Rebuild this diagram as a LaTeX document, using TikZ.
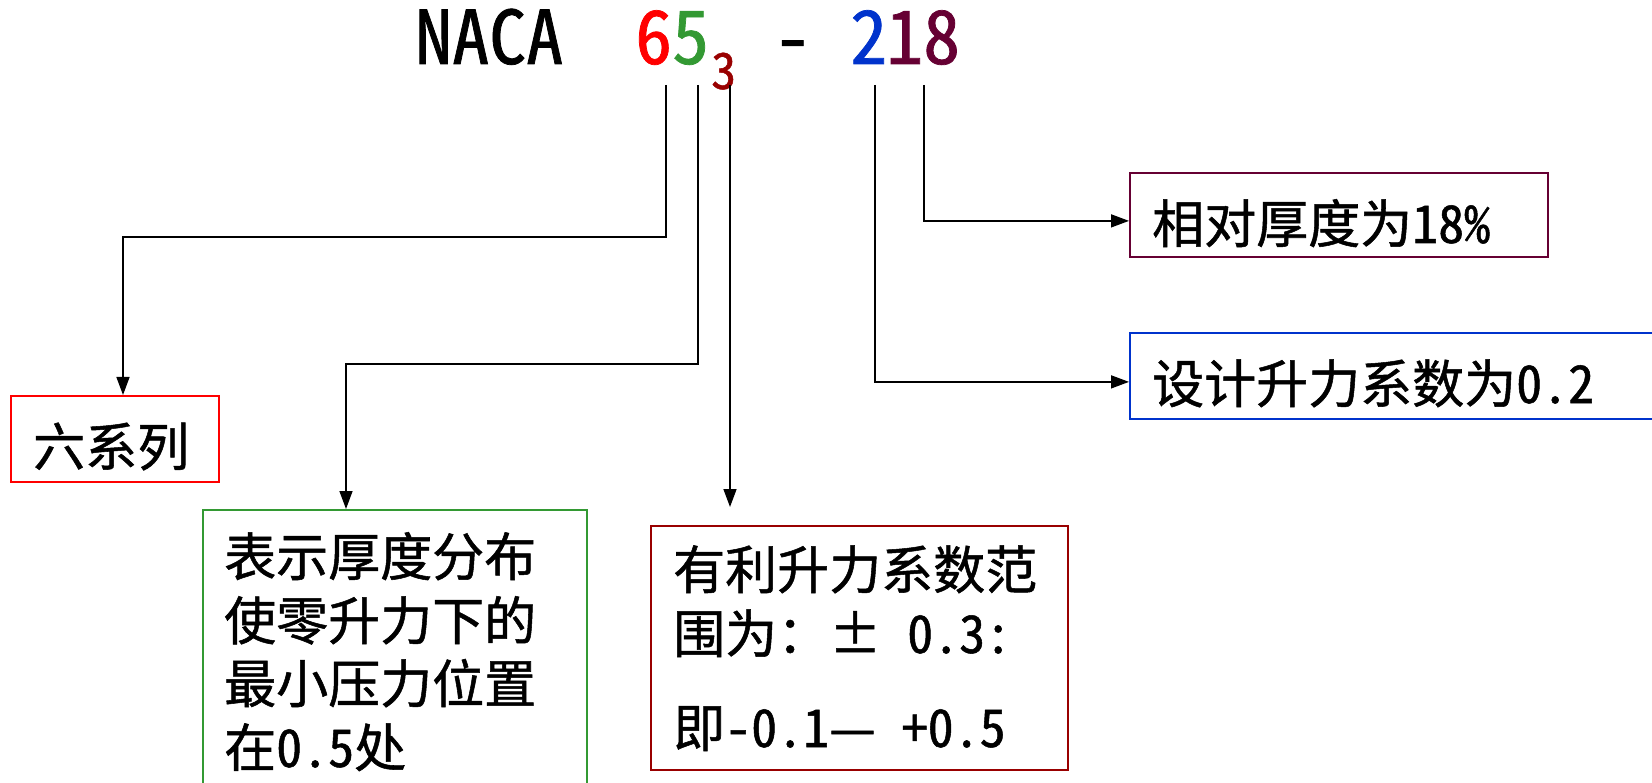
\documentclass[tikz,border=0pt]{standalone}
\usepackage{fontspec}
\usepackage{graphicx}
\setmainfont{Noto Sans CJK SC}
\newfontfamily\hei[FakeBold=1]{Noto Sans Mono CJK SC}
\usetikzlibrary{arrows.meta}
\definecolor{cred}{HTML}{FF0000}
\definecolor{cgreen}{HTML}{339933}
\definecolor{cdred}{HTML}{990000}
\definecolor{cblue}{HTML}{0033CC}
\definecolor{cplum}{HTML}{660033}
\begin{document}
\begin{tikzpicture}[x=1pt,y=-1pt,
  conn/.style={line width=1.5pt,-{Triangle[length=18pt,width=13pt]}},
  box/.style={draw,line width=1.8pt,rectangle,inner sep=0pt},
  txt/.style={font=\hei\fontsize{52}{63}\selectfont,inner sep=0pt,anchor=base west},
  big/.style={font=\hei\fontsize{74}{80}\selectfont,inner sep=0pt,anchor=base west},
  small/.style={font=\hei\fontsize{50}{60}\selectfont,inner sep=0pt,anchor=base west}]
\useasboundingbox (0,0) rectangle (1652,783);
\clip (0,0) rectangle (1652,783);
\fill[white] (0,0) rectangle (1652,783);
% title
\node[big] (naca) at (415,64) {NACA};
\node[big,text=cred] (d6) at (635,64) {6};
\node[big,text=cgreen] (d5) at (672,64) {5};
\node[small,text=cdred] (d3) at (711,89) {3};
\node[big] (dash) at (774,64) {-};
\node[big,text=cblue] (d2) at (850,64) {2};
\node[big,text=cplum] (d1) at (886,64) {1};
\node[big,text=cplum] (d8) at (923,64) {8};
% start points of connectors
\coordinate (p6) at (666,85);
\coordinate (p5) at (698,85);
\coordinate (p3) at (730,85);
\coordinate (p2) at (875,85);
\coordinate (p8) at (924,85);
\coordinate (k6) at (123,237);
\coordinate (k5) at (346,364);
% boxes
\node[box,draw=cred,anchor=north west,minimum width=208,minimum height=86] (six) at (10,395) {};
\node[txt] (sixt) at (33,466) {六系列};
\node[box,draw=cgreen,anchor=north west,minimum width=384,minimum height=300] (gbox) at (202,509) {};
\node[txt] (g1) at (224,576) {表示厚度分布};
\node[txt] (g2) at (224,640) {使零升力下的};
\node[txt] (g3) at (224,703) {最小压力位置};
\node[txt] (g4) at (224,767) {在0.5处};
\node[box,draw=cdred,anchor=north west,minimum width=417,minimum height=244] (rbox) at (650,525) {};
\node[txt] (r1) at (673,589) {有利升力系数范};
\node[txt] (r2) at (673,653) {围为：±\ 0.3:};
\node[txt] (r3) at (673,747) {即-0.1—\ +0.5};
\node[box,draw=cplum,anchor=north west,minimum width=418,minimum height=84] (pbox) at (1129,172) {};
\node[txt] (pt) at (1152,243) {相对厚度为18\%};
\node[box,draw=cblue,anchor=north west,minimum width=540,minimum height=86] (bbox) at (1129,332) {};
\node[txt] (bt) at (1152,403) {设计升力系数为0.2};
% connectors
\draw[conn] (p6) |- (k6) -- (k6 |- six.north);
\draw[conn] (p5) |- (k5) -- (k5 |- gbox.north);
\draw[conn,shorten >=18pt] (p3) -- (p3 |- rbox.north);
\draw[conn] (p2) |- ([yshift=-6pt]bbox.west);
\draw[conn] (p8) |- ([yshift=-6pt]pbox.west);
\end{tikzpicture}
\end{document}
